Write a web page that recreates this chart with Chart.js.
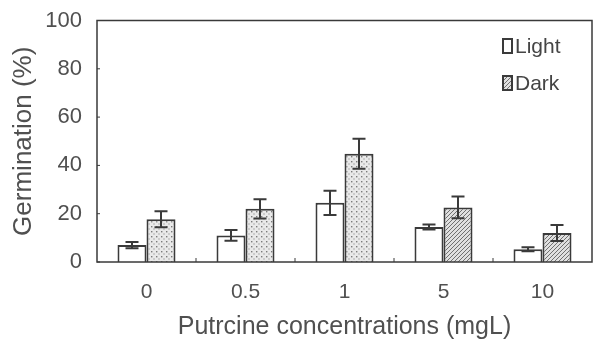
<!DOCTYPE html>
<html>
<head>
<meta charset="utf-8">
<script src="https://cdn.jsdelivr.net/npm/chart.js@4.4.0/dist/chart.umd.min.js"></script>
<style>
  html, body { margin: 0; padding: 0; background: #fff; }
  #wrap { width: 594px; height: 342px; }
</style>
</head>
<body>
<div id="wrap"><canvas id="chart" width="594" height="342"></canvas></div>
<script>
// data
const concentrations = ['0', '0.5', '1', '5', '10'];
const light = [7, 11, 24.5, 14.5, 5.3];
const lightErr = [1.3, 2.2, 5, 1, 0.8];
const dark = [17.7, 22, 44.8, 22.6, 12];
const darkErr = [3.3, 4, 6.2, 4.5, 3.3];
const darkFill = ['dots', 'dots', 'dots', 'hatch', 'hatch'];
const yTicks = [0, 20, 40, 60, 80, 100];

const ink = '#3a3a3a';
const textColor = '#505050';
const font = '"Liberation Sans", Arial, sans-serif';

// fill patterns for the "Dark" bars
function makePattern(kind) {
    const c = document.createElement('canvas');
    const g = c.getContext('2d');
    if (kind === 'dots') {
        c.width = 5; c.height = 5;
        g.fillStyle = '#e9e9e9';
        g.fillRect(0, 0, 5, 5);
        g.fillStyle = '#7a7a7a';
        g.fillRect(1, 1, 1.4, 1.4);
        g.fillRect(3.5, 3.5, 1, 1);
    } else {
        c.width = 4; c.height = 4;
        g.fillStyle = '#e0e0e0';
        g.fillRect(0, 0, 4, 4);
        g.strokeStyle = '#707070';
        g.lineWidth = 1;
        g.beginPath();
        g.moveTo(0, 4); g.lineTo(4, 0);
        g.moveTo(-1, 1); g.lineTo(1, -1);
        g.moveTo(3, 5); g.lineTo(5, 3);
        g.stroke();
    }
    return g.createPattern(c, 'repeat');
}
const patterns = { dots: makePattern('dots'), hatch: makePattern('hatch') };

// frame, inward ticks, error bars and the legend
const extras = {
    id: 'extras',
    afterDatasetsDraw(chart) {
        const ctx = chart.ctx;
        const a = chart.chartArea;
        const y = chart.scales.y;
        const x = chart.scales.x;
        ctx.save();
        ctx.strokeStyle = ink;
        ctx.lineWidth = 1.5;
        ctx.strokeRect(a.left, a.top, a.right - a.left, a.bottom - a.top);

        ctx.lineWidth = 1;
        ctx.beginPath();
        yTicks.forEach(t => {
            const py = y.getPixelForValue(t);
            ctx.moveTo(a.left, py); ctx.lineTo(a.left + 3, py);
        });
        for (let i = 1; i < concentrations.length; i++) {
            const px = (x.getPixelForValue(i - 1) + x.getPixelForValue(i)) / 2;
            ctx.moveTo(px, a.bottom); ctx.lineTo(px, a.bottom - 4);
        }
        ctx.stroke();

        // error bars
        ctx.lineWidth = 2;
        const errs = [lightErr, darkErr];
        chart.data.datasets.forEach((ds, di) => {
            chart.getDatasetMeta(di).data.forEach((bar, i) => {
                const v = ds.data[i], e = errs[di][i];
                const top = y.getPixelForValue(v + e);
                const bot = y.getPixelForValue(v - e);
                ctx.beginPath();
                ctx.moveTo(bar.x, top); ctx.lineTo(bar.x, bot);
                ctx.moveTo(bar.x - 6.5, top); ctx.lineTo(bar.x + 6.5, top);
                ctx.moveTo(bar.x - 6.5, bot); ctx.lineTo(bar.x + 6.5, bot);
                ctx.stroke();
            });
        });

        // legend
        const items = [['Light', '#fff', 46], ['Dark', patterns.hatch, 83]];
        ctx.font = '21px ' + font;
        ctx.textBaseline = 'middle';
        ctx.textAlign = 'left';
        items.forEach(([label, fill, cy]) => {
            ctx.fillStyle = fill;
            ctx.fillRect(503, cy - 7, 9, 14);
            ctx.lineWidth = 2;
            ctx.strokeStyle = ink;
            ctx.strokeRect(503, cy - 7, 9, 14);
            ctx.fillStyle = '#454545';
            ctx.fillText(label, 515, cy + 1);
        });
        ctx.restore();
    }
};

new Chart(document.getElementById('chart'), {
    type: 'bar',
    data: {
        labels: concentrations,
        datasets: [{
            label: 'Light',
            data: light,
            backgroundColor: '#fff',
            borderColor: ink,
            borderWidth: 2,
            borderSkipped: 'bottom',
            categoryPercentage: 0.586,
            barPercentage: 1
        }, {
            label: 'Dark',
            data: dark,
            backgroundColor: darkFill.map(k => patterns[k]),
            borderColor: ink,
            borderWidth: 2,
            borderSkipped: 'bottom',
            categoryPercentage: 0.586,
            barPercentage: 1
        }]
    },
    options: {
        responsive: false,
        animation: false,
        layout: { padding: { top: 19, right: 2, left: 8, bottom: 0 } },
        plugins: { legend: { display: false }, tooltip: { enabled: false } },
        scales: {
            x: {
                grid: { display: false, drawTicks: false },
                border: { display: false },
                ticks: {
                    color: textColor, padding: 18,
                    font: { family: font, size: 21 }
                },
                title: {
                    display: true,
                    text: 'Putrcine concentrations (mgL)',
                    color: textColor,
                    padding: { top: 0, bottom: 0 },
                    font: { family: font, size: 25 }
                },
                afterFit(s) { s.height = 80; }
            },
            y: {
                min: 0, max: 100,
                grid: { display: false, drawTicks: false },
                border: { display: false },
                afterBuildTicks(s) { s.ticks = yTicks.map(v => ({ value: v })); },
                ticks: {
                    color: textColor, padding: 15,
                    font: { family: font, size: 22, lineHeight: 0.5 }
                },
                title: {
                    display: true,
                    text: 'Germination (%)',
                    color: textColor,
                    padding: { top: 0, bottom: 0 },
                    font: { family: font, size: 26 }
                },
                afterFit(s) { s.width = 89; }
            }
        }
    },
    plugins: [extras]
});
</script>
</body>
</html>
